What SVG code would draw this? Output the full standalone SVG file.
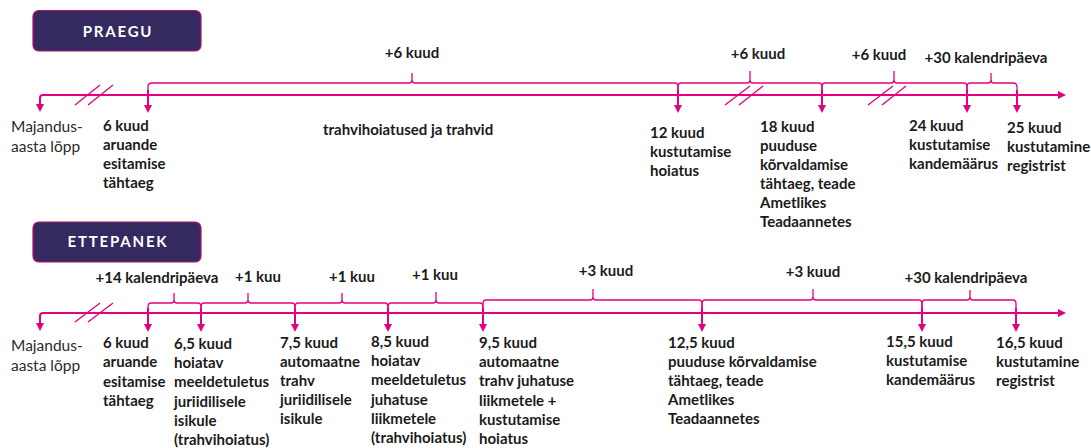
<svg xmlns="http://www.w3.org/2000/svg" width="1091" height="448" viewBox="0 0 1091 448">
<style>
.bg{fill:#ffffff}
.box{fill:#352a5f;stroke:#b0106a;stroke-width:1.2}
.title{font-family:Lato,"Liberation Sans",sans-serif;font-weight:bold;font-size:15px;fill:#ffffff;letter-spacing:1.8px;text-anchor:middle}
.ln{fill:none;stroke:#e5007d;stroke-width:2}
.br{fill:none;stroke:#e5007d;stroke-width:1.3}
.lb{font-family:Lato,"Liberation Sans",sans-serif;font-weight:bold;font-size:15px;fill:#1b1b1b}
.nm{font-family:Lato,"Liberation Sans",sans-serif;font-size:15.5px;fill:#2b2b2b}
.mid{text-anchor:middle}
</style>
<defs>
<marker id="ah" viewBox="0 0 8 8" refX="0" refY="4" markerWidth="8" markerHeight="8" markerUnits="userSpaceOnUse" orient="auto">
<path d="M0,0 L8,4 L0,8 z" fill="#e5007d"/>
</marker>
</defs>
<rect class="bg" x="0" y="0" width="1091" height="448"/>

<g id="praegu"><rect class="box" x="33" y="10.5" width="168" height="40.5" rx="6"/><text class="title" x="118" y="37">PRAEGU</text></g>
<g id="ettepanek"><rect class="box" x="33" y="222" width="168" height="40" rx="6"/><text class="title" x="118" y="247">ETTEPANEK</text></g>

<g id="connectors">
<!-- top axis -->
<path class="ln" d="M40,97 L40,104" marker-end="url(#ah)"/>
<path class="ln" d="M40,98 Q40,95 43,95 L1058,95" marker-end="url(#ah)"/>
<path class="br" d="M75,105 L100,85 M88,105 L113,85"/>
<path class="br" d="M725,105 L750,86 M739,105 L763,86"/>
<path class="br" d="M868,105 L893,86 M882,105 L906,86"/>
<!-- top braces -->
<path class="br" d="M148,95 L148,87 Q148,83 152,83 L409,83 Q412,83 412,80 L412,73 L412,80 Q412,83 415,83 L675,83 Q678,83 678,87 L678,95"/>
<path class="br" d="M678,95 L678,87 Q678,83 681,83 L747,83 Q750,83 750,80 L750,71 L750,80 Q750,83 753,83 L819,83 Q822,83 822,87 L822,95"/>
<path class="br" d="M822,95 L822,87 Q822,83 825,83 L891,83 Q894,83 894,80 L894,71 L894,80 Q894,83 897,83 L964,83 Q967,83 967,87 L967,95"/>
<path class="br" d="M967,95 L967,87 Q967,83 970,83 L988,83 Q991,83 991,80 L991,73 L991,80 Q991,83 994,83 L1013,83 Q1017,83 1017,87 L1017,95"/>
<!-- top drops -->
<path class="ln" d="M148,90 L148,105" marker-end="url(#ah)"/>
<path class="ln" d="M678,90 L678,105" marker-end="url(#ah)"/>
<path class="ln" d="M822,90 L822,105" marker-end="url(#ah)"/>
<path class="ln" d="M967,90 L967,105" marker-end="url(#ah)"/>
<path class="ln" d="M1017,90 L1017,105" marker-end="url(#ah)"/>

<!-- bottom axis -->
<path class="ln" d="M40,316 Q40,313 43,313 L1058,313" marker-end="url(#ah)"/>
<path class="ln" d="M40,315 L40,323" marker-end="url(#ah)"/>
<path class="br" d="M75,322 L100,303 M88,322 L113,303"/>
<!-- bottom braces -->
<path class="br" d="M148,313 L148,307 Q148,303 151,303 L171,303 Q174,303 174,300 L174,293 L174,300 Q174,303 177,303 L198,303 Q201,303 201,307 L201,313"/>
<path class="br" d="M201,313 L201,307 Q201,303 204,303 L245,303 Q248,303 248,300 L248,293 L248,300 Q248,303 251,303 L292,303 Q295,303 295,307 L295,313"/>
<path class="br" d="M295,313 L295,307 Q295,303 298,303 L339,303 Q342,303 342,300 L342,293 L342,300 Q342,303 345,303 L385,303 Q388,303 388,307 L388,313"/>
<path class="br" d="M388,313 L388,307 Q388,303 391,303 L433,303 Q436,303 436,300 L436,292 L436,300 Q436,303 439,303 L480,303 Q483,303 483,307 L483,313"/>
<path class="br" d="M483,313 L483,304 Q483,300 486,300 L590,300 Q593,300 593,297 L593,289 L593,297 Q593,300 596,300 L699,300 Q702,300 702,304 L702,313"/>
<path class="br" d="M702,313 L702,304 Q702,300 705,300 L810,300 Q813,300 813,297 L813,289 L813,297 Q813,300 816,300 L919,300 Q922,300 922,304 L922,313"/>
<path class="br" d="M922,313 L922,304 Q922,300 925,300 L967,300 Q970,300 970,297 L970,290 L970,297 Q970,300 973,300 L1013,300 Q1016,300 1016,304 L1016,313"/>
<!-- bottom drops -->
<path class="ln" d="M148,308 L148,324" marker-end="url(#ah)"/>
<path class="ln" d="M201,308 L201,324" marker-end="url(#ah)"/>
<path class="ln" d="M295,308 L295,324" marker-end="url(#ah)"/>
<path class="ln" d="M388,308 L388,324" marker-end="url(#ah)"/>
<path class="ln" d="M483,308 L483,324" marker-end="url(#ah)"/>
<path class="ln" d="M702,308 L702,324" marker-end="url(#ah)"/>
<path class="ln" d="M922,308 L922,324" marker-end="url(#ah)"/>
<path class="ln" d="M1016,308 L1016,324" marker-end="url(#ah)"/>
</g>

<!-- top labels -->
<g id="top-spans">
<text class="lb mid" x="412" y="58">+6 kuud</text>
<text class="lb mid" x="758" y="59">+6 kuud</text>
<text class="lb mid" x="879" y="60">+6 kuud</text>
<text class="lb mid" x="986" y="63">+30 kalendripäeva</text>
</g>
<g id="t-start"><text class="nm" x="11" y="132"><tspan x="11">Majandus-</tspan><tspan x="11" dy="19.5">aasta lõpp</tspan></text></g>
<g id="t-6"><text class="lb" x="103" y="131"><tspan x="103">6 kuud</tspan><tspan x="103" dy="19">aruande</tspan><tspan x="103" dy="19">esitamise</tspan><tspan x="103" dy="19">tähtaeg</tspan></text></g>
<g id="t-fines"><text class="lb" x="323" y="135">trahvihoiatused ja trahvid</text></g>
<g id="t-12"><text class="lb" x="650" y="138"><tspan x="650">12 kuud</tspan><tspan x="650" dy="19">kustutamise</tspan><tspan x="650" dy="19">hoiatus</tspan></text></g>
<g id="t-18"><text class="lb" x="760" y="132"><tspan x="760">18 kuud</tspan><tspan x="760" dy="19">puuduse</tspan><tspan x="760" dy="19">kõrvaldamise</tspan><tspan x="760" dy="19">tähtaeg, teade</tspan><tspan x="760" dy="19">Ametlikes</tspan><tspan x="760" dy="19">Teadaannetes</tspan></text></g>
<g id="t-24"><text class="lb" x="909" y="131"><tspan x="909">24 kuud</tspan><tspan x="909" dy="19">kustutamise</tspan><tspan x="909" dy="19">kandemäärus</tspan></text></g>
<g id="t-25"><text class="lb" x="1007" y="133"><tspan x="1007">25 kuud</tspan><tspan x="1007" dy="19">kustutamine</tspan><tspan x="1007" dy="19">registrist</tspan></text></g>

<!-- bottom labels -->
<g id="bottom-spans">
<text class="lb mid" x="157" y="283">+14 kalendripäeva</text>
<text class="lb mid" x="258" y="282">+1 kuu</text>
<text class="lb mid" x="352" y="282">+1 kuu</text>
<text class="lb mid" x="435" y="280">+1 kuu</text>
<text class="lb mid" x="606" y="276">+3 kuud</text>
<text class="lb mid" x="813" y="277">+3 kuud</text>
<text class="lb mid" x="966" y="283">+30 kalendripäeva</text>
</g>
<g id="b-start"><text class="nm" x="11" y="351"><tspan x="11">Majandus-</tspan><tspan x="11" dy="19.5">aasta lõpp</tspan></text></g>
<g id="b-6"><text class="lb" x="103" y="348"><tspan x="103">6 kuud</tspan><tspan x="103" dy="19.3">aruande</tspan><tspan x="103" dy="19.3">esitamise</tspan><tspan x="103" dy="19.3">tähtaeg</tspan></text></g>
<g id="b-65"><text class="lb" x="174" y="349"><tspan x="174">6,5 kuud</tspan><tspan x="174" dy="19.2">hoiatav</tspan><tspan x="174" dy="19.2">meeldetuletus</tspan><tspan x="174" dy="19.2">juriidilisele</tspan><tspan x="174" dy="19.2">isikule</tspan><tspan x="174" dy="19.2">(trahvihoiatus)</tspan></text></g>
<g id="b-75"><text class="lb" x="280" y="348"><tspan x="280">7,5 kuud</tspan><tspan x="280" dy="19">automaatne</tspan><tspan x="280" dy="19">trahv</tspan><tspan x="280" dy="19">juriidilisele</tspan><tspan x="280" dy="19">isikule</tspan></text></g>
<g id="b-85"><text class="lb" x="371" y="347"><tspan x="371">8,5 kuud</tspan><tspan x="371" dy="19.2">hoiatav</tspan><tspan x="371" dy="19.2">meeldetuletus</tspan><tspan x="371" dy="19.2">juhatuse</tspan><tspan x="371" dy="19.2">liikmetele</tspan><tspan x="371" dy="19.2">(trahvihoiatus)</tspan></text></g>
<g id="b-95"><text class="lb" x="479" y="348"><tspan x="479">9,5 kuud</tspan><tspan x="479" dy="19.2">automaatne</tspan><tspan x="479" dy="19.2">trahv juhatuse</tspan><tspan x="479" dy="19.2">liikmetele +</tspan><tspan x="479" dy="19.2">kustutamise</tspan><tspan x="479" dy="19.2">hoiatus</tspan></text></g>
<g id="b-125"><text class="lb" x="668" y="348"><tspan x="668">12,5 kuud</tspan><tspan x="668" dy="19">puuduse kõrvaldamise</tspan><tspan x="668" dy="19">tähtaeg, teade</tspan><tspan x="668" dy="19">Ametlikes</tspan><tspan x="668" dy="19">Teadaannetes</tspan></text></g>
<g id="b-155"><text class="lb" x="886" y="347"><tspan x="886">15,5 kuud</tspan><tspan x="886" dy="19">kustutamise</tspan><tspan x="886" dy="19">kandemäärus</tspan></text></g>
<g id="b-165"><text class="lb" x="996" y="348"><tspan x="996">16,5 kuud</tspan><tspan x="996" dy="19">kustutamine</tspan><tspan x="996" dy="19">registrist</tspan></text></g>
</svg>
